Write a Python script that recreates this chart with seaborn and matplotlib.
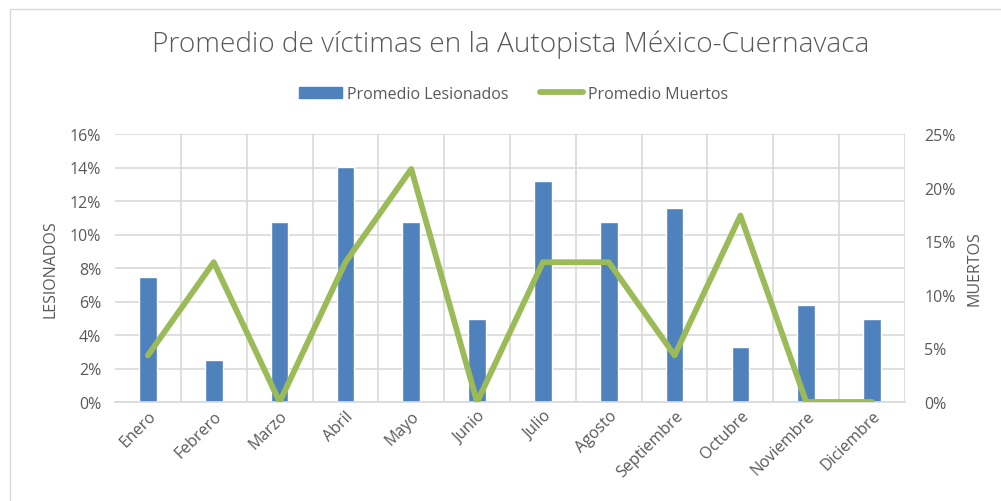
import numpy as np
import pandas as pd
import matplotlib
matplotlib.use("Agg")
import matplotlib.pyplot as plt
import seaborn as sns
from matplotlib.ticker import PercentFormatter, MultipleLocator
from matplotlib.lines import Line2D
from matplotlib.patches import Patch

# datos
meses = ['Enero', 'Febrero', 'Marzo', 'Abril', 'Mayo', 'Junio', 'Julio',
         'Agosto', 'Septiembre', 'Octubre', 'Noviembre', 'Diciembre']
lesionados = [7.44, 2.48, 10.74, 14.05, 10.74, 4.96, 13.22, 10.74, 11.57, 3.31, 5.79, 4.96]
muertos = [4.35, 13.04, 0.0, 13.04, 21.74, 0.0, 13.04, 13.04, 4.35, 17.39, 0.0, 0.0]

df = pd.DataFrame({'Mes': meses, 'Lesionados': lesionados, 'Muertos': muertos})

sns.set_style("white")
plt.rcParams['font.family'] = ['Open Sans', 'DejaVu Sans']

gris = '#595959'
azul = '#4F81BD'
verde = '#9BBB59'
grid = '#D9D9D9'

fig = plt.figure(figsize=(10.01, 5.02), dpi=100)
ax = fig.add_axes([115 / 1001, 1 - 403 / 502, 790 / 1001, 268 / 502])

sns.barplot(data=df, x='Mes', y='Lesionados', color=azul, width=0.27,
            saturation=1, ax=ax, zorder=2)
ax.set_ylim(0, 16)
ax.set_xlim(-0.5, 11.5)
ax.yaxis.set_major_locator(MultipleLocator(2))
ax.yaxis.set_major_formatter(PercentFormatter(decimals=0))

# lineas de division entre categorias
ax.set_xticks(np.arange(len(meses)) + 0.5, minor=True)
ax.grid(True, axis='y', color=grid, lw=1.2, zorder=0)
ax.grid(True, axis='x', which='minor', color=grid, lw=1.2, zorder=0)
ax.tick_params(axis='x', which='major', length=0, pad=4)
ax.tick_params(axis='x', which='minor', length=6, color=grid, width=1.2)
ax.tick_params(axis='y', length=0, colors=gris, labelsize=11.5, pad=10)
ax.set_xticks(range(len(meses)))
ax.set_xticklabels(meses, rotation=45, ha='right', rotation_mode='anchor',
                   color=gris, fontsize=11.5)
for s in ax.spines.values():
    s.set_visible(False)
ax.spines['bottom'].set_visible(True)
ax.spines['bottom'].set_color(grid)
ax.spines['bottom'].set_linewidth(1.2)
ax.set_xlabel('')
ax.set_ylabel('LESIONADOS', color=gris, fontsize=11.5, labelpad=8)

ax2 = ax.twinx()
sns.lineplot(data=df, x='Mes', y='Muertos', color=verde, lw=4.2, sort=False,
             ax=ax2, solid_joinstyle='round', solid_capstyle='round', zorder=3)
ax2.set_ylim(0, 25)
ax2.set_xlim(-0.5, 11.5)
ax2.yaxis.set_major_locator(MultipleLocator(5))
ax2.yaxis.set_major_formatter(PercentFormatter(decimals=0))
ax2.tick_params(axis='y', length=0, colors=gris, labelsize=11.5, pad=14)
for s in ax2.spines.values():
    s.set_visible(False)
ax2.set_ylabel('MUERTOS', color=gris, fontsize=11.5, labelpad=8)
ax2.set_xlabel('')

fig.text(0.51, 1 - 45 / 502, 'Promedio de víctimas en la Autopista México-Cuernavaca',
         ha='center', va='center', fontsize=20.2, color=gris, fontweight='light')

handles = [Patch(color=azul), Line2D([0], [0], color=verde, lw=4.2, solid_capstyle='round')]
fig.legend(handles, ['Promedio Lesionados', 'Promedio Muertos'], ncol=2,
           loc='center', bbox_to_anchor=(0.513, 1 - 95 / 502), frameon=False,
           fontsize=11.5, labelcolor=gris, handlelength=2.7, handletextpad=0.3,
           columnspacing=2.0)

# borde del area del grafico
fig.add_artist(Line2D([10 / 1001, 10 / 1001], [0, 1 - 10 / 502], color=grid, lw=1))
fig.add_artist(Line2D([10 / 1001, 1], [1 - 10 / 502, 1 - 10 / 502], color=grid, lw=1))

fig.savefig('out.png', dpi=100)
